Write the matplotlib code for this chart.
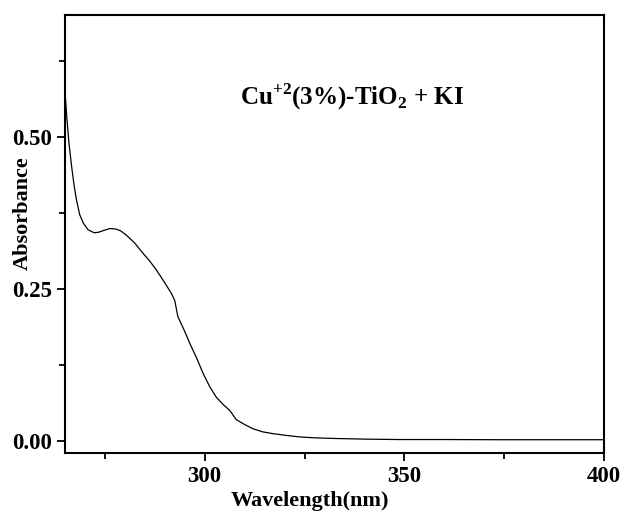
import matplotlib.pyplot as plt
from matplotlib.ticker import MultipleLocator

# Spectrum
wavelength = [265.0, 265.5, 266.0, 266.7, 267.3, 267.9, 268.7, 269.6, 270.8, 272.0, 272.5,
              273.5, 274.8, 276.3, 277.8, 279.0, 280.4, 282.5, 284.6, 286.3, 287.9,
              289.8, 291.7, 292.5, 293.3, 294.8, 296.3, 298.0, 299.6, 301.2, 302.9,
              304.6, 306.3, 307.9, 310.0, 312.1, 314.5, 317.1, 320.5, 323.8, 327.9,
              333.0, 340.0, 348.8, 360.0, 375.0, 390.0, 400.0]
absorbance = [0.577, 0.53, 0.49, 0.45, 0.42, 0.396, 0.372, 0.358, 0.347, 0.343, 0.342,
              0.343, 0.346, 0.349, 0.348, 0.345, 0.338, 0.325, 0.308, 0.295, 0.281,
              0.262, 0.242, 0.231, 0.204, 0.183, 0.160, 0.136, 0.111, 0.090, 0.072,
              0.060, 0.050, 0.035, 0.027, 0.020, 0.015, 0.012, 0.009, 0.0066, 0.005,
              0.004, 0.003, 0.0023, 0.0023, 0.002, 0.002, 0.002]

x_ticks = [300, 350, 400]
y_ticks = [0.00, 0.25, 0.50]

plt.rcParams["font.family"] = ["Liberation Serif", "DejaVu Serif"]
plt.rcParams["mathtext.fontset"] = "custom"
plt.rcParams["mathtext.rm"] = "Liberation Serif:bold"
plt.rcParams["mathtext.bf"] = "Liberation Serif:bold"

fig = plt.figure(figsize=(6.24, 5.12), dpi=100)
ax = fig.add_axes([0.104, 0.115, 0.864, 0.856])

ax.plot(wavelength, absorbance, color="black", linewidth=0.9)

ax.set_xlim(265, 400)
ax.set_ylim(-0.02, 0.70)
ax.set_xticks(x_ticks)
ax.set_yticks(y_ticks)
ax.set_yticklabels([f"{v:.2f}" for v in y_ticks])
ax.xaxis.set_minor_locator(MultipleLocator(25))
ax.yaxis.set_minor_locator(MultipleLocator(0.125))

for s in ax.spines.values():
    s.set_linewidth(1.5)
ax.tick_params(which="major", direction="out", length=6, width=1.3,
               labelsize=16.5, pad=3)
ax.tick_params(which="minor", direction="out", length=4, width=1.3)
for lbl in ax.get_xticklabels() + ax.get_yticklabels():
    lbl.set_fontweight("bold")

ax.set_xlabel("Wavelength(nm)", fontsize=16, fontweight="bold")
ax.set_ylabel("Absorbance", fontsize=16, fontweight="bold")
ax.xaxis.set_label_coords(0.455, -0.087)
ax.yaxis.set_label_coords(-0.059, 0.548)

ax.text(337, 0.565, r"Cu$^{+2}$(3%)-TiO$_2$ + KI", fontsize=18,
        fontweight="bold", ha="center", va="center")

fig.savefig("out.png", dpi=100)
